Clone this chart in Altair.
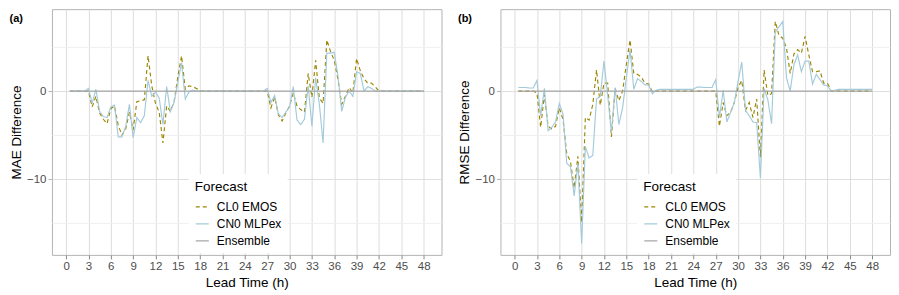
import altair as alt
import pandas as pd

# Lead times (h): 0.5 .. 48.0 in half-hour steps
lead = [i / 2 for i in range(1, 97)]

series = ["CL0 EMOS", "CN0 MLPex", "Ensemble"]
colors = ["#9C8600", "#A3CADB", "#A6A6A6"]
dashes = [[4, 3], [1, 0], [1, 0]]
x_ticks = [0, 3, 6, 9, 12, 15, 18, 21, 24, 27, 30, 33, 36, 39, 42, 45, 48]
y_ticks = [-15, -10, -5, 0, 5]

# ---- Panel (a): MAE difference ----
mae_cl0 = (
    [0.0, 0.0, 0.0, 0.0, 0.0]
    + [0.0, -1.8, -0.6, -2.5, -3.2, -3.7, -2.0, -1.7, -3.9, -5.0, -4.3, -2.4, -4.4, -1.2, -1.1, -1.0,
       4.0, 0.6, -1.4, -2.4, -5.9, -1.7, -2.3, -1.2, 1.6, 4.0, 0.2, 0.6, 0.5, 0.3, 0.0]
    + [0.0] * 17
    + [0.0, -1.9, -0.7, -2.7, -3.4, -2.5, -1.7, -0.2, -1.7, -2.1, -2.4, 2.0, -0.7, 3.5, -0.8, -1.4,
       5.8, 4.5, 3.5, 1.3, -1.5, -0.6, 0.4, -0.2, 3.7, 2.3, 1.4, 0.9, 0.9, 0.5, 0.0]
    + [0.0] * 12
)
mae_cn0 = (
    [0.0, 0.0, 0.0, 0.0, 0.0]
    + [0.3, -1.4, 0.2, -2.3, -2.9, -3.0, -1.8, -1.6, -5.2, -5.2, -4.0, -1.5, -5.3, -3.0, -3.6, -2.8,
       1.2, -0.6, -0.1, -0.8, -3.8, 0.5, -2.3, -1.3, 1.0, 3.2, -0.9, -0.1, 0.1, 0.0, 0.0]
    + [0.0] * 17
    + [0.3, -1.3, -0.5, -2.6, -3.0, -2.4, -1.8, 0.5, -3.3, -3.8, -3.2, 0.6, -4.0, 1.5, -1.5, -5.9,
       4.3, 4.3, 4.4, 1.7, -2.3, -0.7, 0.0, -0.6, 2.2, 2.0, 0.0, 0.5, 0.3, 0.0, 0.0]
    + [0.0] * 12
)

# ---- Panel (b): RMSE difference ----
rmse_cl0 = (
    [0.0, 0.0, 0.0, 0.0, 0.0]
    + [-0.2, -4.1, -0.4, -4.0, -4.3, -4.0, -1.9, -3.2, -7.1, -8.0, -11.0, -7.4, -14.9, -3.0, -3.3, -1.5,
       2.4, -1.6, 0.9, 0.9, -5.2, 0.3, -1.1, 0.0, 3.0, 5.8, 2.0, 1.9, 1.6, 0.9, 0.8, -0.1]
    + [0.0] * 16
    + [0.0, -4.0, -1.3, -2.8, -2.4, -1.3, 0.4, 1.2, -2.2, -1.3, -3.0, -0.9, -7.5, 2.4, -0.5, -0.3,
       7.9, 6.3, 6.0, 4.9, 2.0, 4.2, 4.7, 4.3, 6.2, 4.1, 2.2, 2.2, 2.3, 0.9, 0.9, 0.0]
    + [0.0] * 11
)
rmse_cn0 = (
    [0.4, 0.4, 0.4, 0.35, 0.35]
    + [1.2, -2.8, 0.3, -4.5, -4.1, -3.5, -1.4, -2.6, -8.2, -8.6, -11.9, -8.2, -17.3, -6.3, -7.6, -7.3,
       -0.9, -0.6, 3.4, -0.5, -4.7, 0.4, -3.8, -1.9, 1.5, 4.7, 0.2, 1.4, 1.1, 0.7, 0.7, -0.3]
    + [0.1, 0.2, 0.2, 0.2, 0.2, 0.2, 0.2, 0.2, 0.2, 0.2, 0.2, 0.45, 0.45, 0.4, 0.4, 0.4]
    + [1.3, -3.0, 0.1, -3.5, -2.4, -1.3, 1.1, 3.3, -2.2, -2.8, -3.5, -3.6, -9.9, 0.3, -1.0, -3.7,
       6.7, 7.3, 7.9, 1.5, 0.0, 3.0, 4.1, 2.2, 3.4, 3.4, 0.8, 1.9, 1.3, 0.7, 0.6, 0.0]
    + [0.1, 0.2, 0.2, 0.2, 0.2, 0.2, 0.2, 0.2, 0.2, 0.2, 0.2]
)
ensemble = [0.0] * 96

for s in (mae_cl0, mae_cn0, rmse_cl0, rmse_cn0):
    assert len(s) == 96, len(s)


def panel(tag, ytitle, cl0, cn0):
    rows = []
    for name, vals in zip(series, [cl0, cn0, ensemble]):
        for h, v in zip(lead, vals):
            rows.append({"lead": h, "forecast": name, "value": v})
    df = pd.DataFrame(rows)

    legend = alt.Legend(
        title="Forecast", orient="none", legendX=137, legendY=165,
        fillColor="white", padding=6, symbolType="stroke", symbolSize=170,
        symbolStrokeWidth=1.3, labelOffset=7, rowPadding=3, titlePadding=6,
        titleFontSize=13.5, titleFontWeight="normal", labelFontSize=12,
        titleColor="black", labelColor="black",
    )
    return alt.Chart(df).mark_line(strokeWidth=1.15).encode(
        x=alt.X("lead:Q",
                scale=alt.Scale(domain=[-1.9, 50.4], nice=False, zero=False),
                axis=alt.Axis(values=x_ticks, title="Lead Time (h)", format="d",
                              labelFlush=False, labelOverlap=False)),
        y=alt.Y("value:Q",
                scale=alt.Scale(domain=[-18.6, 9.3], nice=False, zero=False),
                axis=alt.Axis(
                    values=y_ticks, title=ytitle,
                    labelExpr="datum.value % 10 === 0 ? datum.label : ''",
                    gridColor={"condition": {"test": "datum.value % 10 === 0", "value": "#DEDEDE"},
                               "value": "#F0F0F0"},
                    tickColor={"condition": {"test": "datum.value % 10 === 0", "value": "#B3B3B3"},
                               "value": "transparent"},
                )),
        color=alt.Color("forecast:N", scale=alt.Scale(domain=series, range=colors), legend=legend),
        strokeDash=alt.StrokeDash("forecast:N", scale=alt.Scale(domain=series, range=dashes), legend=legend),
    ).properties(
        width=390, height=246,
        title=alt.TitleParams(tag, anchor="start", frame="bounds", fontSize=11,
                              fontWeight="bold", offset=-15, color="black"),
    )


chart_a = panel("(a)", "MAE Difference", mae_cl0, mae_cn0)
chart_b = panel("(b)", "RMSE Difference", rmse_cl0, rmse_cn0)

chart = alt.hconcat(chart_a, chart_b, spacing=14).resolve_scale(
    color="independent", strokeDash="independent"
).resolve_legend(
    color="independent", strokeDash="independent"
).properties(
    padding={"left": 0, "top": 0, "right": 0, "bottom": 0}
).configure(
    font="Liberation Sans"
).configure_view(
    stroke="#B3B3B3", strokeWidth=1
).configure_axis(
    domain=False, grid=True, gridWidth=1, tickSize=4, tickWidth=1,
    labelColor="#4D4D4D", labelFontSize=11.5, labelPadding=2,
    titleFontSize=13.5, titleFontWeight="normal", titleColor="black", titlePadding=3,
)

chart.save("out.html", embed_options={"renderer": "svg", "actions": False})
